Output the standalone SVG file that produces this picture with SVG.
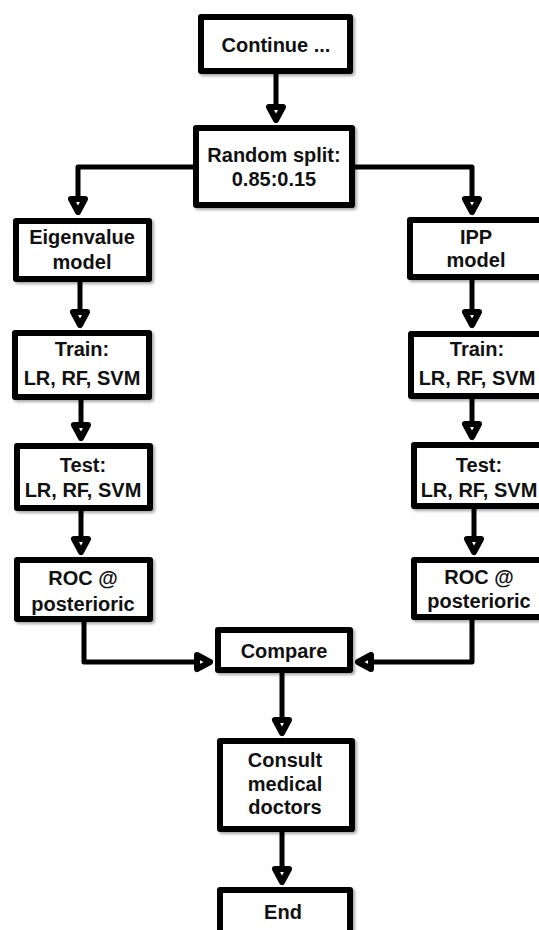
<svg xmlns="http://www.w3.org/2000/svg" xmlns:xlink="http://www.w3.org/1999/xlink" width="539" height="930" viewBox="0 0 539 930">
<defs>
<filter id="sh" x="-10%" y="-10%" width="130%" height="130%">
<feGaussianBlur in="SourceAlpha" stdDeviation="1.5"/>
<feOffset dx="2" dy="2" result="b"/>
<feComponentTransfer><feFuncA type="linear" slope="0.35"/></feComponentTransfer>
<feMerge><feMergeNode/><feMergeNode in="SourceGraphic"/></feMerge>
</filter>
<path id="ah" d="M-7,-13 L7,-13 L0,0 Z" fill="#fff" stroke="#000" stroke-width="6" stroke-linejoin="round"/>
</defs>
<style>
.box{fill:#fff;stroke:#000;stroke-width:6;stroke-linejoin:round;filter:url(#sh)}
.t{font-family:"Liberation Sans",Arial,sans-serif;font-weight:bold;font-size:20px;fill:#111;text-anchor:middle}
.c{fill:none;stroke:#000;stroke-width:5;stroke-linejoin:round}
</style>
<rect width="539" height="930" fill="#fff"/>
<g id="connectors">
<path class="c" d="M276,74 V108"/>
<use xlink:href="#ah" transform="translate(276,120)"/>
<path class="c" d="M193,167 H78 V199"/>
<use xlink:href="#ah" transform="translate(78,212)"/>
<path class="c" d="M355,167 H472 V199"/>
<use xlink:href="#ah" transform="translate(472,212)"/>
<path class="c" d="M80,282 V312"/>
<use xlink:href="#ah" transform="translate(80,325)"/>
<path class="c" d="M81,400 V425"/>
<use xlink:href="#ah" transform="translate(81,438)"/>
<path class="c" d="M81,511 V539"/>
<use xlink:href="#ah" transform="translate(81,552)"/>
<path class="c" d="M84,622 V662 H197"/>
<use xlink:href="#ah" transform="translate(210,662) rotate(-90)"/>
<path class="c" d="M472,280 V312"/>
<use xlink:href="#ah" transform="translate(472,325)"/>
<path class="c" d="M472,399 V424"/>
<use xlink:href="#ah" transform="translate(472,437)"/>
<path class="c" d="M474,509 V539"/>
<use xlink:href="#ah" transform="translate(474,552)"/>
<path class="c" d="M472,620 V662 H371"/>
<use xlink:href="#ah" transform="translate(358,662) rotate(90)"/>
<path class="c" d="M282,673 V720"/>
<use xlink:href="#ah" transform="translate(282,733)"/>
<path class="c" d="M282,832 V869"/>
<use xlink:href="#ah" transform="translate(282,882)"/>
</g>
<g id="n-continue"><rect class="box" x="201" y="17" width="149" height="54"/><text class="t" x="276" y="52">Continue ...</text></g>
<g id="n-split"><rect class="box" x="196" y="128" width="156" height="77"/><text class="t" x="274" y="162">Random split:</text><text class="t" x="274" y="186">0.85:0.15</text></g>
<g id="n-eigen"><rect class="box" x="16" y="221" width="133" height="58"/><text class="t" x="82" y="244">Eigenvalue</text><text class="t" x="82" y="269">model</text></g>
<g id="n-train-l"><rect class="box" x="15" y="333" width="134" height="64"/><text class="t" x="82" y="356">Train:</text><text class="t" x="82" y="385">LR, RF, SVM</text></g>
<g id="n-test-l"><rect class="box" x="17" y="446" width="133" height="62"/><text class="t" x="83" y="472">Test:</text><text class="t" x="83" y="497">LR, RF, SVM</text></g>
<g id="n-roc-l"><rect class="box" x="17" y="560" width="133" height="59"/><text class="t" x="83" y="585">ROC @</text><text class="t" x="83" y="611">posterioric</text></g>
<g id="n-ipp"><rect class="box" x="410" y="220" width="135" height="57"/><text class="t" x="476" y="244">IPP</text><text class="t" x="476" y="267">model</text></g>
<g id="n-train-r"><rect class="box" x="411" y="334" width="135" height="62"/><text class="t" x="477" y="356">Train:</text><text class="t" x="477" y="385">LR, RF, SVM</text></g>
<g id="n-test-r"><rect class="box" x="414" y="445" width="133" height="61"/><text class="t" x="479" y="472">Test:</text><text class="t" x="479" y="497">LR, RF, SVM</text></g>
<g id="n-roc-r"><rect class="box" x="414" y="560" width="133" height="57"/><text class="t" x="479" y="584">ROC @</text><text class="t" x="479" y="608">posterioric</text></g>
<g id="n-compare"><rect class="box" x="218" y="630" width="132" height="40"/><text class="t" x="284" y="658">Compare</text></g>
<g id="n-consult"><rect class="box" x="220" y="741" width="132" height="88"/><text class="t" x="285" y="767">Consult</text><text class="t" x="285" y="791">medical</text><text class="t" x="285" y="814">doctors</text></g>
<g id="n-end"><rect class="box" x="220" y="890" width="130" height="60"/><text class="t" x="283" y="919">End</text></g>
</svg>
